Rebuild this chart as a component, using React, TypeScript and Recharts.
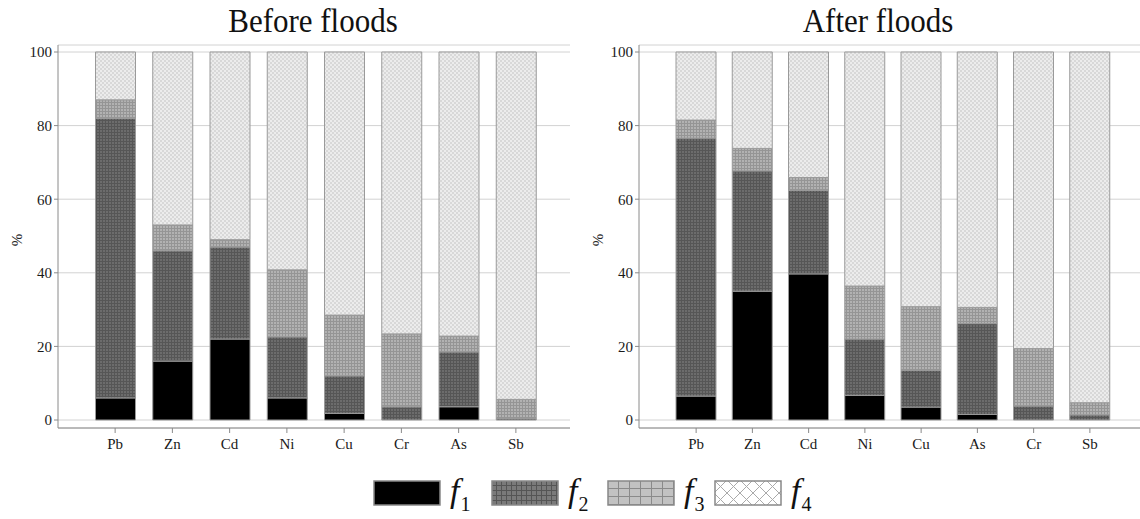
import React from 'react';
import { BarChart, Bar, XAxis, YAxis, CartesianGrid } from 'recharts';

const categoriesBefore = ['Pb', 'Zn', 'Cd', 'Ni', 'Cu', 'Cr', 'As', 'Sb'];
const beforeF1 = [6, 16, 22, 6, 1.8, 0, 3.6, 0];
const beforeF2 = [76, 30, 25, 16.6, 10.2, 3.6, 14.9, 0.4];
const beforeF3 = [5, 7, 2, 18.2, 16.5, 19.8, 4.3, 5.2];
const beforeF4 = [13, 47, 51, 59.2, 71.5, 76.6, 77.2, 94.4];

const categoriesAfter = ['Pb', 'Zn', 'Cd', 'Ni', 'Cu', 'As', 'Cr', 'Sb'];
const afterF1 = [6.5, 35, 39.7, 6.7, 3.5, 1.5, 0, 0];
const afterF2 = [70.1, 32.7, 22.7, 15.3, 10, 24.7, 3.8, 1.4];
const afterF3 = [4.9, 6.1, 3.5, 14.4, 17.3, 4.4, 15.6, 3.3];
const afterF4 = [18.5, 26.2, 34.1, 63.6, 69.2, 69.4, 80.6, 95.3];

const yTicks = [0, 20, 40, 60, 80, 100];
const titles = ['Before floods', 'After floods'];
const legendKeys = ['1', '2', '3', '4'];

const beforeData = categoriesBefore.map((name, i) => ({
  name,
  f1: beforeF1[i],
  f2: beforeF2[i],
  f3: beforeF3[i],
  f4: beforeF4[i],
}));
const afterData = categoriesAfter.map((name, i) => ({
  name,
  f1: afterF1[i],
  f2: afterF2[i],
  f3: afterF3[i],
  f4: afterF4[i],
}));

const FONT = '"Liberation Serif", "DejaVu Serif", serif';
const AXIS = '#8a8a8a';

function Patterns({ p }: { p: string }) {
  return (
    <defs>
      <pattern id={`${p}f2`} width="3" height="3" patternUnits="userSpaceOnUse">
        <rect width="3" height="3" fill="#6c6c6c" />
        <line x1="0" y1="0.5" x2="3" y2="0.5" stroke="#565656" strokeWidth="1" />
        <line x1="0.5" y1="0" x2="0.5" y2="3" stroke="#565656" strokeWidth="1" />
      </pattern>
      <pattern id={`${p}f3`} width="3" height="3" patternUnits="userSpaceOnUse">
        <rect width="3" height="3" fill="#b2b2b2" />
        <line x1="0" y1="0.5" x2="3" y2="0.5" stroke="#959595" strokeWidth="1" />
        <line x1="0.5" y1="0" x2="0.5" y2="3" stroke="#959595" strokeWidth="1" />
      </pattern>
      <pattern id={`${p}f4`} width="4" height="4" patternUnits="userSpaceOnUse">
        <rect width="4" height="4" fill="#ececec" />
        <rect x="0" y="0" width="2" height="2" fill="#d8d8d8" />
        <rect x="2" y="2" width="2" height="2" fill="#d8d8d8" />
      </pattern>
    </defs>
  );
}

function Panel({
  data,
  prefix,
  yWidth,
  width,
  padLeft,
  padRight,
}: {
  data: any[];
  prefix: string;
  yWidth: number;
  width: number;
  padLeft: number;
  padRight: number;
}) {
  const tickStyle = { fontFamily: FONT, fontSize: 15, fill: '#1a1a1a' };
  return (
    <BarChart
      width={width}
      height={460}
      data={data}
      margin={{ top: 45, right: 0, left: 0, bottom: 2 }}
      barSize={40}
    >
      <Patterns p={prefix} />
      <CartesianGrid vertical={false} stroke="#d2d2d2" />
      <XAxis
        dataKey="name"
        xAxisId={0}
        height={30}
        padding={{ left: padLeft, right: padRight }}
        stroke={AXIS}
        tickSize={5}
        tick={{ ...tickStyle, dy: 3 }}
        interval={0}
      />
      <XAxis
        dataKey="name"
        xAxisId="top"
        orientation="top"
        height={0}
        mirror
        padding={{ left: padLeft, right: padRight }}
        axisLine={false}
        stroke={AXIS}
        tickSize={5}
        tick={false}
        interval={0}
      />
      <YAxis
        width={yWidth}
        domain={[0, 100]}
        ticks={yTicks}
        padding={{ top: 7, bottom: 8 }}
        stroke={AXIS}
        tickSize={4}
        tick={tickStyle}
      />
      <Bar dataKey="f1" stackId="a" fill="#000" stroke="#9a9a9a" strokeWidth={1} isAnimationActive={false} />
      <Bar dataKey="f2" stackId="a" fill={`url(#${prefix}f2)`} stroke="#9a9a9a" strokeWidth={1} isAnimationActive={false} />
      <Bar dataKey="f3" stackId="a" fill={`url(#${prefix}f3)`} stroke="#9a9a9a" strokeWidth={1} isAnimationActive={false} />
      <Bar dataKey="f4" stackId="a" fill={`url(#${prefix}f4)`} stroke="#9a9a9a" strokeWidth={1} isAnimationActive={false} />
    </BarChart>
  );
}

function Swatch({ k }: { k: string }) {
  return (
    <svg width={68} height={26} style={{ display: 'block' }}>
      <defs>
        <pattern id="lg2" width="5" height="5" patternUnits="userSpaceOnUse">
          <rect width="5" height="5" fill="#7a7a7a" />
          <line x1="0" y1="0.5" x2="5" y2="0.5" stroke="#555" strokeWidth="1" />
          <line x1="0.5" y1="0" x2="0.5" y2="5" stroke="#555" strokeWidth="1" />
        </pattern>
        <pattern id="lg3" width="11" height="8" patternUnits="userSpaceOnUse">
          <rect width="11" height="8" fill="#c2c2c2" />
          <line x1="0" y1="0.5" x2="11" y2="0.5" stroke="#8a8a8a" strokeWidth="1" />
          <line x1="0.5" y1="0" x2="0.5" y2="8" stroke="#8a8a8a" strokeWidth="1" />
        </pattern>
        <pattern id="lg4" width="13" height="13" patternUnits="userSpaceOnUse">
          <rect width="13" height="13" fill="#fff" />
          <line x1="0" y1="0" x2="13" y2="13" stroke="#aaa" strokeWidth="1" />
          <line x1="13" y1="0" x2="0" y2="13" stroke="#aaa" strokeWidth="1" />
        </pattern>
      </defs>
      <rect
        x={1}
        y={1}
        width={66}
        height={24}
        fill={k === '1' ? '#000' : `url(#lg${k})`}
        stroke="#888"
        strokeWidth={1.5}
      />
    </svg>
  );
}

const legendLeft = [373, 491, 607, 714];

export default function App() {
  const titleStyle: React.CSSProperties = {
    position: 'absolute',
    top: 3,
    width: 300,
    textAlign: 'center',
    fontSize: 31,
    lineHeight: '36px',
    color: '#111',
    transform: 'scaleY(1.12)',
  };
  return (
    <div
      style={{
        position: 'absolute',
        left: 0,
        top: 0,
        width: 1140,
        height: 519,
        background: '#fff',
        overflow: 'hidden',
        fontFamily: FONT,
      }}
    >
      <div style={{ position: 'absolute', left: 0, top: 0 }}>
        <Panel data={beforeData} prefix="b" yWidth={58} width={570} padLeft={28.5} padRight={25.5} />
      </div>
      <div style={{ position: 'absolute', left: 570, top: 0 }}>
        <Panel data={afterData} prefix="a" yWidth={69} width={570} padLeft={29} padRight={22} />
      </div>
      <div style={{ ...titleStyle, left: 163 }}>{titles[0]}</div>
      <div style={{ ...titleStyle, left: 728 }}>{titles[1]}</div>
      {[17, 598].map((x, i) => (
        <div
          key={i}
          style={{
            position: 'absolute',
            left: x - 10,
            top: 230,
            width: 20,
            height: 20,
            lineHeight: '20px',
            textAlign: 'center',
            fontSize: 15,
            color: '#222',
            transform: 'rotate(-90deg)',
          }}
        >
          %
        </div>
      ))}
      {legendKeys.map((k, i) => (
        <div
          key={k}
          style={{ position: 'absolute', left: legendLeft[i], top: 480, display: 'flex', alignItems: 'flex-start' }}
        >
          <Swatch k={k} />
          <div style={{ marginLeft: 9, marginTop: -6, color: '#111', whiteSpace: 'nowrap' }}>
            <span style={{ fontStyle: 'italic', fontSize: 34, lineHeight: '34px' }}>f</span>
            <span style={{ fontSize: 20, position: 'relative', top: 9, marginLeft: 1 }}>{k}</span>
          </div>
        </div>
      ))}
    </div>
  );
}
